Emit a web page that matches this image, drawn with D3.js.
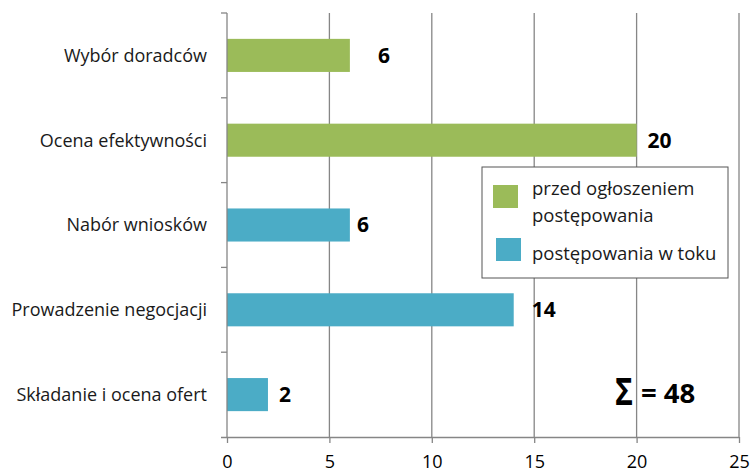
<!DOCTYPE html>
<html>
<head>
<meta charset="utf-8">
<script src="https://cdn.jsdelivr.net/npm/d3@7"></script>
<style>
  body { margin: 0; background: #fff; }
  svg { display: block; font-family: 'Open Sans', sans-serif; }
</style>
</head>
<body>
<svg id="chart" width="754" height="474"></svg>
<script>
const categories = ['Wybór doradców', 'Ocena efektywności', 'Nabór wniosków', 'Prowadzenie negocjacji', 'Składanie i ocena ofert'];
const values = [6, 20, 6, 14, 2];
const groups = ['przed', 'przed', 'toku', 'toku', 'toku'];
const seriesNames = ['przed ogłoszeniem\npostępowania', 'postępowania w toku'];
const xTicks = [0, 5, 10, 15, 20, 25];
const sumSymbol = 'Σ';
const sumText = '= 48';

// label offsets (labels were nudged by hand)
const labelDx = [28, 11, 7, 18, 11];

const colors = { przed: '#9bbb59', toku: '#4bacc6' };
const margin = { top: 13, right: 15, bottom: 37, left: 227 };
const width = 754 - margin.left - margin.right;
const height = 474 - margin.top - margin.bottom;

const svg = d3.select('#chart');
const g = svg.append('g').attr('transform', `translate(${margin.left},${margin.top})`);

const x = d3.scaleLinear().domain([0, 25]).range([0, width]);
const y = d3.scaleBand().domain(categories).range([0, height]).paddingInner(0.61).paddingOuter(0.305);
const yEdges = d3.scaleLinear().domain([0, categories.length]).range([0, height]);

// gridlines
g.append('g')
    .selectAll('line')
    .data(xTicks.slice(1))
    .enter()
    .append('line')
        .attr('x1', d => x(d)).attr('x2', d => x(d))
        .attr('y1', 0).attr('y2', height)
        .attr('stroke', '#868686').attr('stroke-width', 1.3);

// bars
g.append('g')
    .selectAll('rect')
    .data(categories)
    .enter()
    .append('rect')
        .attr('x', x(0))
        .attr('y', d => y(d))
        .attr('width', (d, i) => x(values[i]) - x(0))
        .attr('height', y.bandwidth())
        .attr('fill', (d, i) => colors[groups[i]]);

// value labels
g.append('g')
    .selectAll('text')
    .data(categories)
    .enter()
    .append('text')
        .attr('x', (d, i) => x(values[i]) + labelDx[i])
        .attr('y', d => y(d) + y.bandwidth() / 2)
        .attr('dy', '0.35em')
        .attr('font-size', 21).attr('font-weight', 'bold')
        .attr('fill', '#000')
        .text((d, i) => values[i]);

// y axis line + category ticks
g.append('line')
    .attr('x1', 0).attr('x2', 0).attr('y1', 0).attr('y2', height)
    .attr('stroke', '#868686').attr('stroke-width', 1.3);
g.append('g')
    .selectAll('line')
    .data(d3.range(categories.length))
    .enter()
    .append('line')
        .attr('x1', -6).attr('x2', 0)
        .attr('y1', d => yEdges(d)).attr('y2', d => yEdges(d))
        .attr('stroke', '#868686').attr('stroke-width', 1.3);

g.append('g')
    .selectAll('text')
    .data(categories)
    .enter()
    .append('text')
        .attr('x', -20)
        .attr('y', d => y(d) + y.bandwidth() / 2)
        .attr('dy', '0.35em')
        .attr('text-anchor', 'end')
        .attr('font-size', 18).attr('fill', '#1a1a1a')
        .text(d => d);

// x axis
const xAxis = g.append('g')
    .attr('transform', `translate(0,${height})`)
    .call(d3.axisBottom(x).tickValues(xTicks).tickSize(6).tickPadding(12));
xAxis.select('.domain').attr('stroke', '#868686').attr('stroke-width', 1.3)
    .attr('d', `M${-6},0.5H${width}`);
xAxis.selectAll('.tick line').attr('stroke', '#868686').attr('stroke-width', 1.3);
xAxis.selectAll('.tick text').attr('font-size', 18).attr('fill', '#000')
    .attr('font-family', "'Open Sans', sans-serif");

// legend
const legend = svg.append('g').attr('transform', 'translate(482,167)');
legend.append('rect')
    .attr('width', 246).attr('height', 111)
    .attr('fill', '#fff').attr('stroke', '#555').attr('stroke-width', 1);
const legendItems = [
    { name: seriesNames[0], color: colors.przed, sy: 18, ty: 28 },
    { name: seriesNames[1], color: colors.toku, sy: 71, ty: 93 }
];
legendItems.forEach((it, i) => {
    legend.append('rect')
        .attr('x', 11 + i * 3).attr('y', it.sy)
        .attr('width', 25).attr('height', 23)
        .attr('fill', it.color);
    it.name.split('\n').forEach((line, j) => {
        legend.append('text')
            .attr('x', 50).attr('y', it.ty + j * 27)
            .attr('font-size', 18.5).attr('fill', '#1a1a1a')
            .text(line);
    });
});

// sum annotation
svg.append('text')
    .attr('x', 615).attr('y', 405)
    .attr('font-size', 38).attr('font-weight', 'bold')
    .attr('textLength', 18).attr('lengthAdjust', 'spacingAndGlyphs')
    .attr('fill', '#000')
    .text(sumSymbol);
svg.append('text')
    .attr('x', 641).attr('y', 403)
    .attr('font-size', 27.5).attr('font-weight', 'bold')
    .attr('fill', '#000')
    .text(sumText);
</script>
</body>
</html>
